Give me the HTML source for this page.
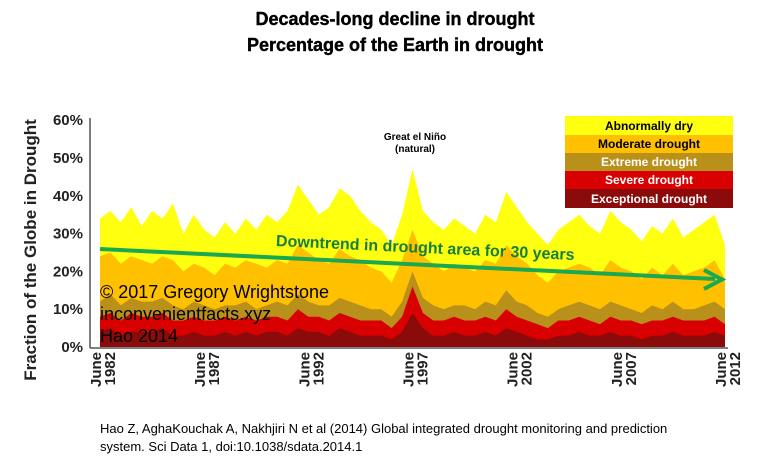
<!DOCTYPE html>
<html><head><meta charset="utf-8"><style>
body{margin:0;background:#fff;width:770px;height:463px;overflow:hidden;font-family:"Liberation Sans",sans-serif}
</style></head><body>
<svg id="chart" width="770" height="463" viewBox="0 0 770 463" xmlns="http://www.w3.org/2000/svg" font-family="Liberation Sans, sans-serif">
<text x="395" y="25" text-anchor="middle" font-size="18" font-weight="900" stroke="#000" stroke-width="0.4">Decades-long decline in drought</text>
<text x="395" y="51" text-anchor="middle" font-size="18" font-weight="900" stroke="#000" stroke-width="0.4">Percentage of the Earth in drought</text>
<text transform="translate(36,250) rotate(-90)" text-anchor="middle" font-size="17" font-weight="bold" fill="#222">Fraction of the Globe in Drought</text>
<g id="areas"></g>
<g id="yticks"></g>
<g id="xticks"></g>
<line x1="90" y1="118" x2="90" y2="348" stroke="#555" stroke-width="1.5"/>
<line x1="90" y1="348" x2="728" y2="348" stroke="#555" stroke-width="1.5"/>
<text x="415" y="140" text-anchor="middle" font-size="10" font-weight="bold">Great el Niño</text>
<text x="415" y="152" text-anchor="middle" font-size="10" font-weight="bold">(natural)</text>
<g>
<rect x="565" y="116" width="168" height="19" fill="#ffff10"/>
<rect x="565" y="135" width="168" height="18" fill="#ffc000"/>
<rect x="565" y="153" width="168" height="18" fill="#b8901a"/>
<rect x="565" y="171" width="168" height="18" fill="#d80000"/>
<rect x="565" y="189" width="168" height="19" fill="#8b0a0a"/>
<text x="649" y="130" text-anchor="middle" font-size="12" font-weight="bold">Abnormally dry</text>
<text x="649" y="148" text-anchor="middle" font-size="12" font-weight="bold">Moderate drought</text>
<text x="649" y="166" text-anchor="middle" font-size="12" font-weight="bold" fill="#fff">Extreme drought</text>
<text x="649" y="184" text-anchor="middle" font-size="12" font-weight="bold" fill="#fff">Severe drought</text>
<text x="649" y="203" text-anchor="middle" font-size="12" font-weight="bold" fill="#fff">Exceptional drought</text>
</g>
<g>
<line x1="100" y1="249" x2="715" y2="279" stroke="#1aa850" stroke-width="4"/>
<polyline points="704,270 722,279.5 704,289" fill="none" stroke="#1aa850" stroke-width="4"/>
</g>
<text transform="translate(425,253) rotate(2.7)" text-anchor="middle" font-size="16" font-weight="bold" fill="#16803a">Downtrend in drought area for 30 years</text>
<text x="100" y="298" font-size="18">© 2017 Gregory Wrightstone</text>
<text x="100" y="320" font-size="18">inconvenientfacts.xyz</text>
<text x="100" y="342" font-size="18">Hao 2014</text>
<text x="100" y="433" font-size="13">Hao Z, AghaKouchak A, Nakhjiri N et al (2014) Global integrated drought monitoring and prediction</text>
<text x="100" y="451" font-size="13">system. Sci Data 1, doi:10.1038/sdata.2014.1</text>
</svg>
<script>
const years=[1982.5,1983,1983.5,1984,1984.5,1985,1985.5,1986,1986.5,1987,1987.5,1988,1988.5,1989,1989.5,1990,1990.5,1991,1991.5,1992,1992.5,1993,1993.5,1994,1994.5,1995,1995.5,1996,1996.5,1997,1997.5,1998,1998.5,1999,1999.5,2000,2000.5,2001,2001.5,2002,2002.5,2003,2003.5,2004,2004.5,2005,2005.5,2006,2006.5,2007,2007.5,2008,2008.5,2009,2009.5,2010,2010.5,2011,2011.5,2012,2012.5];
const abnormal=[34,36,33,37,32,36,34,38,30,35,31,29,33,30,34,31,35,33,36,43,39,35,37,42,40,36,33,31,27,35,47,36,33,31,34,32,30,35,33,41,37,33,30,27,31,33,35,32,30,36,33,31,28,32,30,34,29,31,33,35,27];
const moderate=[24,25,22,24,23,22,24,23,20,22,21,19,22,21,23,22,21,23,22,27,25,23,22,26,24,23,21,20,17,23,31,24,22,20,22,21,20,23,22,27,24,22,19,17,20,21,22,21,19,23,21,20,18,21,19,22,19,20,21,23,18];
const extreme=[12,14,11,13,12,12,13,11,10,12,11,10,11,11,12,10,11,12,11,14,12,11,11,13,12,11,10,10,8,12,20,13,11,10,11,11,10,12,11,15,12,11,9,8,10,11,12,11,10,12,11,10,9,11,10,12,10,10,11,12,10];
const severe=[8,9,7,9,8,8,9,7,7,8,7,7,8,7,8,7,8,8,7,10,8,8,7,9,8,7,7,7,5,8,16,9,7,7,8,7,7,8,7,10,8,7,6,5,7,7,8,7,6,8,7,7,6,7,7,8,7,7,7,8,6];
const exceptional=[4,5,3,4,4,4,5,3,3,4,3,3,4,3,4,3,4,4,3,5,4,4,3,5,4,3,3,3,2,4,9,5,3,3,4,3,3,4,3,5,4,3,2,2,3,3,4,3,3,4,3,3,2,3,3,4,3,3,3,4,3];
const yTicks=[0,10,20,30,40,50,60];
const xTickYears=[1982,1987,1992,1997,2002,2007,2012];
const NS='http://www.w3.org/2000/svg';
const xs=y=>100+(y-1982.5)*(625/30);
const ys=v=>347-v*3.78;
const g=document.getElementById('areas');
const layers=[[abnormal,'#ffff10','area-abnormally-dry'],[moderate,'#ffc000','area-moderate-drought'],[extreme,'#b8901a','area-extreme-drought'],[severe,'#d80000','area-severe-drought'],[exceptional,'#8b0a0a','area-exceptional-drought']];
layers.forEach(([arr,col,name])=>{
  let d='M'+xs(years[0])+','+ys(0);
  arr.forEach((v,i)=>{d+=' L'+xs(years[i]).toFixed(1)+','+ys(v).toFixed(1);});
  d+=' L'+xs(years[years.length-1])+','+ys(0)+' Z';
  const p=document.createElementNS(NS,'path');
  p.setAttribute('d',d);p.setAttribute('fill',col);
  
  
  g.appendChild(p);
});
const yt=document.getElementById('yticks');
yTicks.forEach(v=>{
  const t=document.createElementNS(NS,'text');
  t.setAttribute('x',83);t.setAttribute('y',ys(v)+5);
  t.setAttribute('text-anchor','end');t.setAttribute('font-size','15');t.setAttribute('font-weight','bold');t.setAttribute('fill','#222');
  t.textContent=v+'%';
  
  
  yt.appendChild(t);
});
const xt=document.getElementById('xticks');
xTickYears.forEach(yr=>{
  const x=xs(yr+0.5);
  const t=document.createElementNS(NS,'text');
  t.setAttribute('transform','translate('+(x+1)+',352) rotate(-90)');
  t.setAttribute('text-anchor','end');t.setAttribute('font-size','15');t.setAttribute('font-weight','bold');t.setAttribute('fill','#222');
  const a=document.createElementNS(NS,'tspan');a.setAttribute('x',0);a.setAttribute('dy',0);a.textContent='June';
  const b=document.createElementNS(NS,'tspan');b.setAttribute('x',0);b.setAttribute('dy',14);b.textContent=String(yr);
  t.appendChild(a);t.appendChild(b);
  
  
  xt.appendChild(t);
});
</script>
</body></html>
